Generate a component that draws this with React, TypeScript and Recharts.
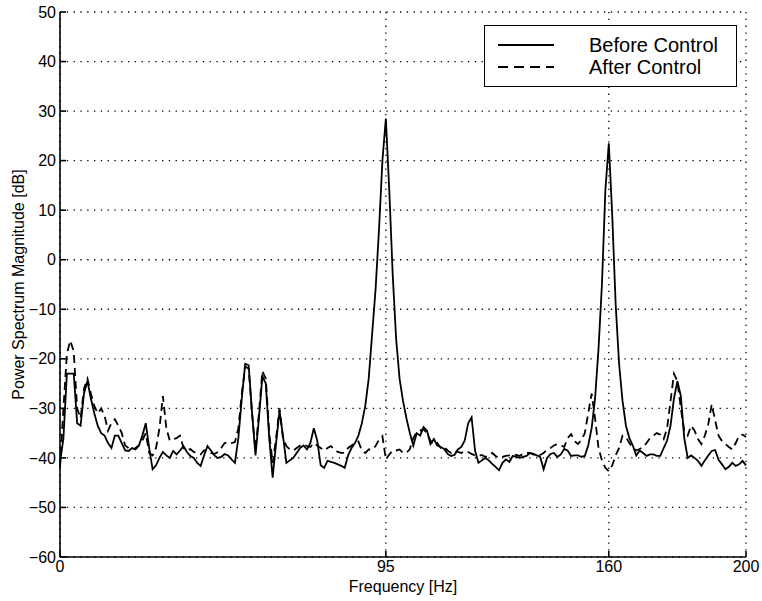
import { CartesianGrid, Label, Legend, Line, LineChart, XAxis, YAxis } from "recharts";

// power spectrum magnitude [dB], one value per 1 Hz bin, 0..200 Hz
const beforeControl = [
  -41, -36, -23, -23, -23, -33, -33.5, -27, -24.5, -28,
  -31, -33.5, -35, -35.5, -37, -38, -35.5, -35.5, -37, -38.5,
  -38.6, -38, -38.3, -37.5, -35.5, -33, -38, -42.3, -41.5, -40,
  -38.8, -39.5, -40, -38.6, -39.3, -38.5, -37.6, -38.8, -39.6, -40,
  -41, -41.6, -39.5, -37.6, -38.5, -39.5, -40, -39.8, -39.2, -39.5,
  -40.3, -41, -36, -28, -21, -21.3, -31, -39.5, -32, -23.5,
  -25, -36, -44, -37, -30.5, -35.5, -41, -40.5, -40, -39,
  -38, -37.5, -38.3, -37, -34, -36.5, -41.5, -42, -40.6, -40.8,
  -41, -41.3, -41.6, -42, -39.5, -38, -37, -35.5, -33, -29.5,
  -24, -15, -6, 6, 20, 28.5, 14, -3, -16, -24,
  -28.5, -32, -35, -37.5, -35, -35.5, -33.8, -34.5, -37.2, -36.2,
  -37.5, -37.8, -38.2, -39.2, -39.6, -39.4, -38.3, -37.8, -36.5, -33,
  -31.8, -38.5, -41, -40.5, -40, -40.5, -41.2, -41.8, -42.5, -41,
  -40.3, -40.8, -39.6, -39.8, -40, -39.8, -39.6, -39, -39.2, -39.5,
  -39.8, -42.3, -40, -39.2, -39, -39.8, -39.3, -38.2, -38.5, -39.6,
  -39.5, -39.5, -39.8, -39.6, -37.5, -34, -28, -18, -5, 14,
  23.5, 9, -9, -21, -28.5, -33.5, -36, -37.5, -39.5, -38.5,
  -39, -39.6, -39.3, -39.3, -39.6, -39.6, -38, -36.5, -33.5, -28,
  -24.5, -27.5, -36, -40, -39.5, -40, -40.6, -41.6, -40.5, -39.5,
  -38.6, -38.4, -40.4, -41.3, -42.3, -41.8, -41, -41.6, -41.3, -40.6,
  -41.5,
];

const afterControl = [
  -42, -30, -19, -16.3, -18.5, -30, -32, -26, -24, -27,
  -29.5, -31, -30, -31.5, -34.5, -33, -32.2, -33.5, -35, -37.5,
  -38, -38.3, -38, -37.5, -36.5, -35, -39, -39.5, -38, -34,
  -27.5, -34, -36.5, -36.2, -36, -35.5, -38, -38.5, -38.2, -38.8,
  -39, -39.3, -38.5, -38.5, -39, -39.2, -38.8, -38, -37, -36.8,
  -37, -36.8, -34, -27, -21.5, -22, -31, -38.5, -31, -22.5,
  -24, -35, -41, -36, -30, -36, -37.6, -38.3, -38.5, -38,
  -37.5, -37.3, -37.6, -37.8, -37, -37.5, -38, -38.5, -38, -37.6,
  -38.3, -38.8, -39, -39, -38, -37.5, -37, -36.7, -38.5, -39,
  -38.3, -38.3, -37.6, -36.3, -35.6, -40.3, -39.3, -38.5, -38.5, -38.3,
  -39, -39, -38.2, -36, -34.8, -34.5, -34.2, -35, -36.5, -37.5,
  -37, -38, -37.8, -38.5, -39, -38.5, -38.8, -39, -38.6, -38.8,
  -39.2, -39.5, -39.6, -39.4, -39.8, -39.5, -39, -39.6, -40, -39.8,
  -39.6, -39.5, -39.3, -39.4, -39.6, -39.2, -39, -39, -39.3, -39.6,
  -39.4, -39, -38.3, -38, -37.5, -37.2, -37.4, -37.8, -36, -35.2,
  -36.6, -37.2, -36.4, -35, -31, -27, -32, -38, -40.5, -42,
  -42.7, -41.5, -39.5, -38, -35.5, -35.8, -37, -38, -38.5, -38.2,
  -37.8, -37, -36, -35.5, -35, -35.3, -36.2, -34, -28.5, -23,
  -24.5, -30, -34.5, -35.5, -33.5, -34.5, -36.2, -37.2, -35.5, -33.2,
  -29.2, -32.4, -35.5, -36.6, -37.2, -37.8, -38.3, -37, -35.5, -35.3,
  -35.8,
];

const freqTicks = [0, 95, 160, 200];
const dbTicks = [-60, -50, -40, -30, -20, -10, 0, 10, 20, 30, 40, 50];

const series = [
  { key: "before", name: "Before Control", dash: undefined },
  { key: "after", name: "After Control", dash: "8 5" },
];

const rows = beforeControl.map((v, i) => ({ freq: i, before: v, after: afterControl[i] }));

const font = "'Liberation Sans', Arial, Helvetica, sans-serif";

function LegendBox() {
  return (
    <div
      style={{
        boxSizing: "border-box",
        width: 253,
        height: 62,
        border: "1.5px solid #000",
        background: "#fff",
        fontFamily: font,
        fontSize: 20,
        color: "#000",
        paddingTop: 8,
      }}
    >
      {series.map((s) => (
        <div key={s.key} style={{ display: "flex", alignItems: "center", height: 22 }}>
          <svg width={104} height={22} style={{ flex: "none" }}>
            <line x1={13} x2={69} y1={11} y2={11} stroke="#000" strokeWidth={1.8} strokeDasharray={s.dash ? "10 6" : undefined} />
          </svg>
          <span style={{ lineHeight: "22px" }}>{s.name}</span>
        </div>
      ))}
    </div>
  );
}

function YLabel({ viewBox }: any) {
  const cx = viewBox.x + 18;
  const cy = viewBox.y + viewBox.height / 2;
  return (
    <text x={cx} y={cy} transform={`rotate(-90, ${cx}, ${cy})`} textAnchor="middle" dominantBaseline="central" fontFamily={font} fontSize={16} fill="#000">
      Power Spectrum Magnitude [dB]
    </text>
  );
}

const minus = (v: number) => String(v).replace("-", "\u2212");

export default function App() {
  const tickStyle = { fill: "#000", fontSize: 16, fontFamily: font };
  return (
    <div style={{ position: "absolute", left: 0, top: 0, width: 762, height: 601, background: "#fff" }}>
      <LineChart width={762} height={601} data={rows} margin={{ top: 12, right: 16, bottom: 6, left: 0 }}>
        <CartesianGrid stroke="#000" strokeWidth={1.3} strokeDasharray="1.3 5.5" />
        <XAxis
          dataKey="freq"
          type="number"
          domain={[0, 200]}
          ticks={freqTicks}
          height={38}
          tickSize={-6}
          tickMargin={10}
          stroke="#000"
          strokeWidth={1.6}
          tick={tickStyle}
        >
          <Label value="Frequency [Hz]" position="insideBottom" offset={3} fill="#000" fontSize={16} fontFamily={font} />
        </XAxis>
        <XAxis xAxisId="top" orientation="top" type="number" domain={[0, 200]} ticks={[95, 160]} height={0} tickSize={-6} tick={false} stroke="#000" strokeWidth={1.6} />
        <YAxis
          type="number"
          domain={[-60, 50]}
          ticks={dbTicks}
          width={60}
          tickSize={-6}
          tickMargin={10}
          stroke="#000"
          strokeWidth={1.6}
          tick={tickStyle}
          tickFormatter={minus}
          label={{ content: YLabel }}
        />
        <YAxis yAxisId="right" orientation="right" type="number" domain={[-60, 50]} ticks={dbTicks} width={0} tickSize={-6} tick={false} stroke="#000" strokeWidth={1.6} />
        {series.map((s) => (
          <Line
            key={s.key}
            dataKey={s.key}
            name={s.name}
            type="linear"
            stroke="#000"
            strokeWidth={1.8}
            strokeDasharray={s.dash}
            dot={false}
            activeDot={false}
            isAnimationActive={false}
          />
        ))}
        <Legend
          layout="horizontal"
          verticalAlign="middle"
          align="center"
          content={<LegendBox />}
          wrapperStyle={{ left: 484, top: 25, width: 253, height: 62 }}
        />
      </LineChart>
    </div>
  );
}
